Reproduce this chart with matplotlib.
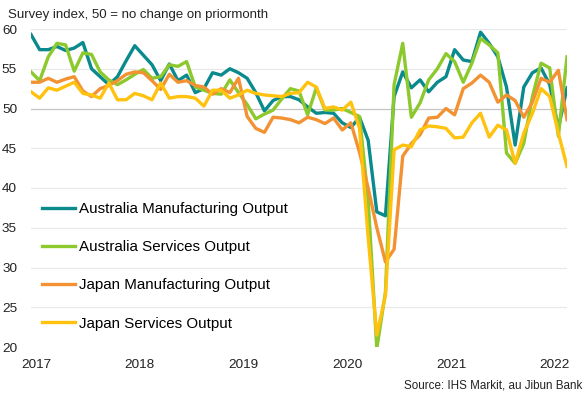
import numpy as np
import matplotlib
matplotlib.use("Agg")
import matplotlib.pyplot as plt

plt.rcParams['font.family'] = ['Liberation Sans', 'DejaVu Sans']

# monthly, Dec 2016 .. Feb 2022
aus_mfg = [59.3, 57.4, 57.4, 57.8, 57.3, 57.6, 58.3, 55.0, 54.0, 53.0,
           54.0, 56.0, 57.9, 56.7, 55.5, 53.5, 55.6, 53.5, 54.2, 52.0,
           52.5, 54.5, 54.2, 55.0, 54.5, 53.8, 52.0, 49.7, 51.0, 51.5,
           51.5, 51.1, 50.2, 49.4, 49.5, 49.4, 48.2, 47.6, 48.9, 46.0,
           37.0, 36.5, 51.5, 54.6, 52.6, 53.6, 52.1, 53.3, 54.0, 57.4,
           56.1, 55.9, 59.6, 58.2, 56.5, 52.7, 45.4, 52.7, 54.5, 55.1,
           53.0, 47.5, 52.6]
aus_svc = [54.6, 53.5, 56.5, 58.2, 58.0, 54.7, 57.0, 56.8, 54.6, 53.6,
           53.0, 53.6, 54.3, 54.9, 53.8, 54.0, 55.5, 55.3, 55.9, 52.7,
           52.3, 51.9, 51.8, 53.6, 52.0, 50.5, 48.7, 49.3, 49.8, 51.2,
           52.5, 52.2, 49.2, 52.6, 49.8, 49.8, 50.0, 49.5, 49.0, 38.5,
           19.8, 26.9, 53.0, 58.2, 48.9, 50.7, 53.6, 55.0, 56.9, 55.9,
           53.3, 55.7, 58.8, 58.0, 57.0, 44.4, 43.1, 45.6, 51.5, 55.7,
           55.1, 46.5, 56.5]
jpn_mfg = [53.3, 53.3, 53.8, 53.3, 53.7, 54.0, 52.2, 51.5, 52.5, 52.9,
           53.5, 54.3, 54.6, 54.5, 53.5, 52.4, 54.3, 53.3, 53.5, 52.9,
           52.7, 51.8, 52.5, 52.0, 53.8, 49.0, 47.5, 47.0, 48.9, 48.8,
           48.6, 48.2, 48.9, 48.6, 48.1, 48.8, 47.3, 48.2, 44.5, 40.0,
           35.0, 30.7, 32.3, 44.0, 45.6, 46.7, 48.8, 48.9, 50.0, 49.2,
           52.5, 53.2, 54.2, 53.3, 50.8, 51.7, 51.0, 48.9, 50.8, 53.8,
           53.3, 54.8, 48.6]
jpn_svc = [52.1, 51.3, 52.6, 52.3, 52.8, 53.3, 51.9, 51.7, 51.3, 53.2,
           51.1, 51.1, 51.9, 51.6, 51.1, 53.2, 51.3, 51.5, 51.5, 51.3,
           50.3, 52.3, 52.3, 51.3, 51.7, 52.3, 51.9, 51.7, 51.6, 51.5,
           51.9, 52.0, 53.3, 52.7, 50.0, 50.2, 49.8, 50.8, 47.5, 33.8,
           21.5, 26.5, 44.8, 45.4, 45.2, 47.3, 47.8, 47.7, 47.5, 46.3,
           46.4, 48.2, 49.4, 46.4, 47.9, 47.3, 43.1, 46.9, 49.4, 52.5,
           51.5, 46.9, 42.7]

series = [
    ("Australia Manufacturing Output", aus_mfg, "#0a8a8c"),
    ("Australia Services Output", aus_svc, "#8cc92c"),
    ("Japan Manufacturing Output", jpn_mfg, "#f39233"),
    ("Japan Services Output", jpn_svc, "#ffc20e"),
]
years = ["2017", "2018", "2019", "2020", "2021", "2022"]

W, H = 586, 397
fig = plt.figure(figsize=(W / 100, H / 100), dpi=100)
ax = fig.add_axes([31 / W, (H - 347) / H, (567 - 31) / W, (347 - 29) / H])

x = np.arange(len(aus_mfg))
for name, vals, col in series:
    ax.plot(x, vals, color=col, lw=2.4, label=name, solid_joinstyle='round')

ax.set_xlim(0, len(x) - 1)
ax.set_ylim(20, 60)
ax.set_yticks(np.arange(20, 61, 5))
for v in np.arange(25, 61, 5):
    ax.axhline(v, color="#c4c4c4" if v == 50 else "#e8e8e8", lw=0.9, zorder=0)
ax.set_xticks(np.arange(len(years)) * 12 + 0.6)
ax.set_xticklabels(years)
ax.tick_params(axis='both', length=0, labelsize=9.7, colors="#222222")
ax.tick_params(axis='x', pad=9)
ax.tick_params(axis='y', pad=10)
for s in ax.spines.values():
    s.set_visible(False)

fig.text(8 / W, 1 - 15 / H, "Survey index, 50 = no change on priormonth",
         fontsize=9.5, va='center', ha='left', color="#222222")
fig.text(582 / W, 1 - 385 / H, "Source: IHS Markit, au Jibun Bank",
         fontsize=8.4, va='center', ha='right', color="#222222")

fig.legend(loc='upper left', bbox_to_anchor=(42 / W, 1 - 202 / H),
           frameon=False, fontsize=10.9, handlelength=2.2, handletextpad=0.25,
           labelspacing=1.6, borderpad=0, borderaxespad=0)

fig.savefig("out.png", dpi=100)
